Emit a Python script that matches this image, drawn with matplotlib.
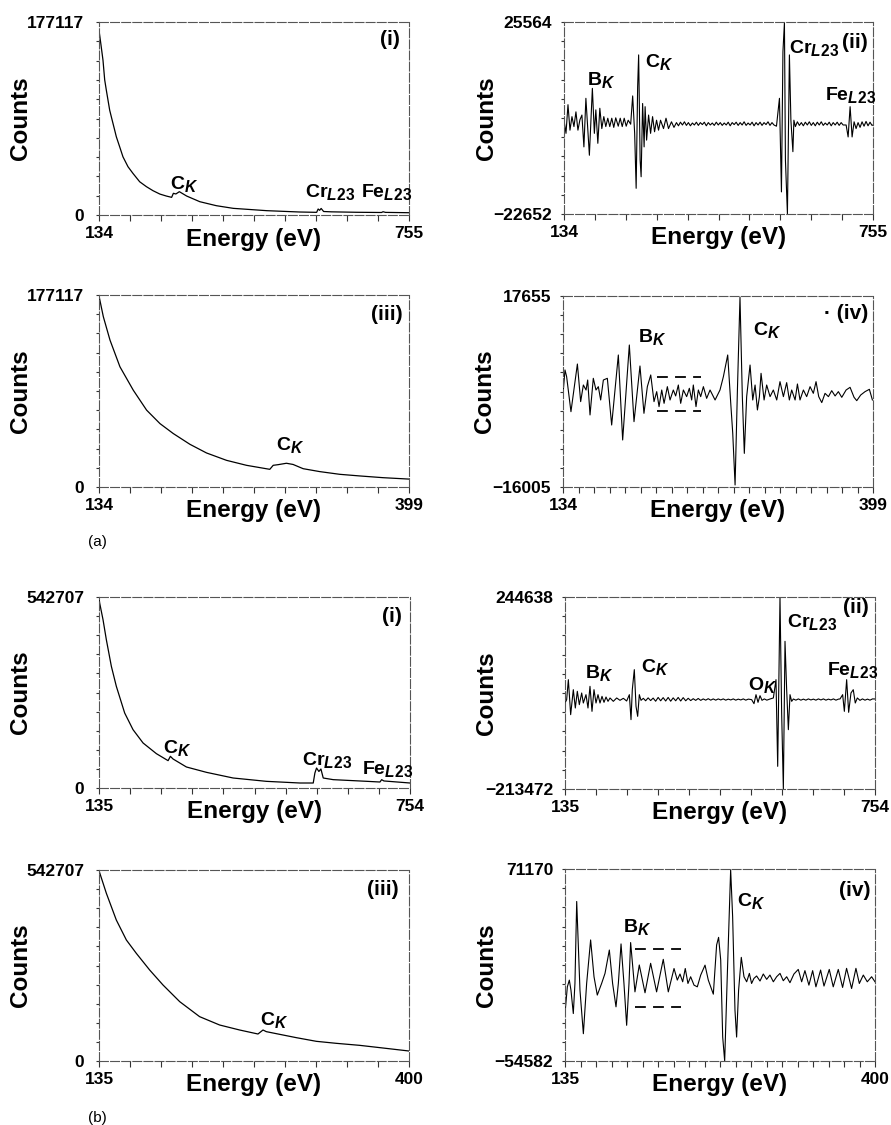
import numpy as np
import matplotlib
matplotlib.use('Agg')
import matplotlib.pyplot as plt

try:
    import matplotlib._mathtext as _mt
    _mt.SHRINK_FACTOR = 0.8
except Exception:
    pass

plt.rcParams['font.family'] = ['Liberation Sans', 'DejaVu Sans']
plt.rcParams['font.weight'] = 'bold'
plt.rcParams['mathtext.fontset'] = 'custom'
plt.rcParams['mathtext.rm'] = 'Liberation Sans:bold'
plt.rcParams['mathtext.it'] = 'Liberation Sans:bold:italic'
plt.rcParams['mathtext.bf'] = 'Liberation Sans:bold'

# ---------------- data ----------------
# (a)(i) raw spectrum 134-755 eV
E_ai = [134, 138, 142, 145.4, 148.7, 155.4, 158.7, 165.4, 168.7, 175.4, 182, 192.1, 202, 215.5,
        229, 242.2, 256, 268.9, 279.5, 283, 288, 295, 309.6,
        336, 369, 403, 470, 536, 570, 573, 576, 579, 584, 600, 650, 700, 703, 708, 755]
C_ai = [169500, 156000, 142000, 124000, 114500, 96200, 90100, 77900, 71800, 62600, 53400, 44300,
        38200, 30500, 26000, 22300, 19200, 17400, 16200, 19900,
        19300, 21400, 17400, 12200, 8550, 6100, 3970, 2750, 2440, 5500, 4300, 6000, 3200, 2900,
        2500, 2300, 3000, 2400, 2100]

# (a)(ii) derivative-filtered spectrum 134-755 eV
E_aii = [134, 138, 142, 146, 150, 154, 158, 162, 166, 170, 174, 178, 182, 185, 191, 195, 198, 202,
         206, 210, 214, 218, 222, 226, 230, 234, 238, 243, 247, 251, 255, 259, 263, 268, 272, 276,
         279, 282, 284, 287, 289, 292, 295, 297, 300, 304, 308, 312, 316, 320, 324, 328, 334, 339,
         344, 350, 355, 360,
         364, 368, 372, 376, 380, 384, 388, 392, 396, 400, 404, 408, 412, 416, 420, 424, 428, 432,
         436, 440, 444, 448, 452, 456, 460, 464, 468, 472, 476, 480, 484, 488, 492, 496, 500, 504,
         508, 512, 516, 520, 524, 528, 532, 536, 540, 544, 548, 552, 556,
         561, 567, 571, 574, 577, 579, 583, 587, 590, 594, 596, 599,
         603, 607, 611, 615, 619, 623, 627, 631, 635, 639, 643, 647, 651, 655, 659, 663, 667, 671,
         675, 679, 683, 687, 691, 695,
         701, 705, 709, 713, 717, 721, 725, 729, 733, 737, 741, 745, 749, 753, 755]
C_aii = [900, -2400, 4800, -1600, 1800, -700, 3000, -1600, 1000, 2200, -5800, 6400, -1600, -7900,
         8900, -2400, 3500, -4900, 3900, -1200, 1800, -700, 1400, -700, 1400, -900, 1500, -600,
         1400, -700, 1400, -600, 900, -100, 7000, -2400, -16200, 9300, 17300, -9100, -13300, 5100,
         -5800, 4300, -4100, 2200, -2400, 1800, -2000, 900, -1600, 900, -1200, 1400, -1200, 500,
         -900, 300,
         -500, 400, -300, 500, -400, 300, -500, 200, -300, 400, -400, 300, -200, 400, -500, 300,
         -300, 200, -400, 400, -300, 300, -400, 200, -300, 400, -500, 300, -200, 400, -400, 300,
         -300, 500, -400, 200, -300, 400, -500, 300, -300, 400, -400, 300, -200, 500, -400, 300,
         -300,
         -600, 6400, -17100, 18100, 25400, -9100, -22600, 17300, 900, -7000, 900, -700,
         500, -400, 300, -500, 400, -300, 500, -400, 300, -500, 400, -300, 500, -400, 200, -300,
         400, -500, 300, -300, 400, -400, 300, -300,
         -300, -3300, 4300, -3300, 500, -1200, 300, -900, 500, -600, 600, -500, 400, -400, -300]

# (a)(iii) raw spectrum 134-399 eV
E_aiii = [134, 137.7, 143.4, 151.9, 163.3, 174.7, 186.1, 197.5, 211.7, 225.9, 243, 260.1, 280,
          282.9, 287.1, 294.2, 299.9, 308.5, 322.7, 339.8, 356.9, 376.8, 399]
C_aiii = [176200, 157100, 135500, 110900, 89300, 70900, 58500, 49300, 39400, 31400, 24600, 20000,
          16300, 20000, 20600, 21900, 20800, 16900, 14200, 11700, 10200, 8600, 7300]

# (a)(iv) derivative-filtered spectrum 134-399 eV
E_aiv = [134.3, 135.7, 137.1, 140.8, 146.3, 149.1, 151.4, 153.7, 155.1, 157.1,
         159.9, 162.2, 164.2, 166.2, 168.5, 171.9, 175.6, 181.3, 185, 190.7,
         194.7, 199.8, 203.2, 206.1, 209, 211.8, 214.1, 216.1, 218.4, 220.4,
         223.2, 225.5, 228.3, 230.3, 232.6, 234.6, 236.9, 239.7, 242, 244,
         245.4, 247.7, 249.7, 251.7, 254, 256.8, 259.7, 264, 268.2, 271.1,
         274.8, 277.4, 279.1, 281.1, 283.1, 285.3, 287.3, 289, 291, 293.9,
         296.2, 298.2, 300.2, 301.9, 303.3, 305.9, 308.1, 311, 313.8, 316.7,
         319.5, 322.4, 325.2, 327.5, 329.5, 332.4, 334.4, 336.6, 339.5, 342.3,
         345.2, 348, 350.3, 352.6, 355.2, 358, 360.9, 363.7, 366.6, 369.4,
         372.3, 376, 379.4, 382.8, 385.1, 388.5, 392.2, 395.9, 398.5]
C_aiv = [1090, 4620, 3440, -2730, 5670, -960, 1970, 1090, 2850, -3310,
         3150, 1090, 1680, -670, 2850, 3150, -5080, 7260, -7720, 9020,
         -4490, 5320, -3020, 1680, 3740, -960, 800, -1840, 1090, -1260,
         1680, -670, 1090, 40, 1970, -1260, 1090, -80, 1390, -670,
         1970, -1840, 1090, -80, 1680, -380, 1090, -670, 1090, 3440,
         7260, -1260, -6540, -15650, 1090, 17420, -80, -10080, -80, 5490,
         -670, 1970, -2430, -80, 4030, -670, 1970, -80, 1090, -670,
         2560, -80, 2390, -670, 1090, -670, 2150, -670, 1090, -80,
         1680, 500, 2560, -80, -1130, 500, -80, 970, 40, 800,
         -200, 1090, 1560, -200, -790, 210, 800, 1210, -670]
dash_aiv_E = [214, 252]
dash_aiv_levels = [3320, -2550]

# (b)(i) raw spectrum 135-754 eV
E_bi = [135, 136.3, 143, 149.6, 159.6, 169.5, 186.1, 202.7, 222.7, 249.2, 272.5, 277.1, 282.4, 309,
        348.9, 402, 468.4, 534.8, 561.4, 564.7, 568, 572.7, 576.7, 581.3, 601.2, 667.7, 694.2,
        697.6, 702, 754]
C_bi = [540000, 525700, 478300, 421500, 345700, 288900, 213100, 165800, 127900, 97600, 77700,
        90000, 82400, 59700, 44500, 28400, 18900, 14200, 14200, 42600, 56800, 47000, 54000, 28400,
        23700, 19000, 17000, 23700, 20000, 14200]

# (b)(ii) derivative-filtered spectrum 135-754 eV
E_bii = [135, 138.3, 141.7, 146.3, 151.6, 155.6, 159.6, 163.6, 168.3, 171.6,
         176.9, 180.9, 184.9, 188.9, 192.9, 196.9, 200.9, 204.9, 208.9, 212.9,
         216.9, 220.9, 224.9, 231.5, 238.2, 244.8, 251.5, 258.1, 263.5, 266.8,
         269.4, 273.4, 276.8, 280.1, 283.4, 286.8, 291.4,
         296, 301, 306, 311, 316, 321, 326, 331, 336, 341, 346, 351, 356, 361, 366, 371, 376, 381,
         386, 391, 396, 401, 406, 411, 416, 421, 426, 431, 436, 441, 446, 451, 456, 461, 466, 471,
         476, 481, 486, 491, 496, 501,
         507.7, 512.4, 516.4, 520.4, 524.4, 528.4, 533, 538, 544.4, 551,
         556.3, 559.7, 564.3, 567.6, 571, 574.3, 577.6, 581, 584.3, 587.6, 591,
         596, 601, 606, 611, 616, 621, 626, 631, 636, 641, 646, 651, 656, 661, 666, 671, 676, 681,
         684.1, 689.4, 692.8, 697.4, 701.4, 706, 710.6, 714.6, 718.7, 724,
         729, 734, 739, 744, 749, 754]
C_bii = [-8300, -300, 47400, -36100, 23500, -20200, 19600, -12200, 15600, -8300,
         11600, -20200, 31500, -28200, 23500, -8300, 11600, -8300, 7600, -6700,
         6000, -4300, 3700, -4300, 3700, -1900, 2900, -3500, 11600, -48000,
         23500, 71300, -16200, -40100, 11600, -1900, 2900,
         -3000, 4000, -2500, 3500, -4000, 5000, -3000, 4500, -3500, 5000,
         -4000, 4000, -3000, 5000, -3500, 4500, -3000, 3000, -2500, 2000,
         -2000, 2500, -2000, 1500, -1500, 2000, -1500, 1500, -1500, 1500,
         -1000, 1500, -1500, 1000, -1000, 1500, -1500, 1000, -1000, 1500,
         -1500, 1000,
         -300, -9900, 11600, -6700, 9200, -1900, 1500, -1500, 1300, 3700,
         47400, -159400, 244600, -32100, -213500, 138900, 23500, -71900, 11600, -4300, 1300,
         -1500, 1500, -1500, 1000, -1500, 1500, -1000, 1000, -1500, 1500, -1000, 1500, -1500,
         1000, -1000, 1500, -1500, 1000,
         1300, 11600, -28200, 47400, -30500, 15600, 23500, -8300, 3700, -1900,
         1500, -1500, 1000, -1500, 1500, 1300]

# (b)(iii) raw spectrum 135-400 eV
E_biii = [135, 141.3, 149.8, 158.4, 166.9, 178.3, 189.7, 204, 221, 238.1, 255.2, 270.9, 275.2,
          278, 289.4, 303.7, 320.8, 337.9, 357.8, 377.8, 400]
C_biii = [540800, 476400, 400600, 343800, 305900, 258600, 216000, 168600, 126000, 102300, 88100,
          76700, 88100, 83400, 75800, 66300, 55900, 50200, 44500, 36900, 28400]

# (b)(iv) derivative-filtered spectrum 135-400 eV
E_biv = [135, 137, 138.7, 140.1, 142.1, 143.5, 145, 147.8, 150.7, 153.5,
         156.9, 159.8, 162.6, 166.3, 169.2, 172.9, 175.7, 178.6, 180.6, 182.9,
         185.4, 187.7, 189.7, 191.1, 194.8, 198.5, 203.4, 208.2, 213.3, 219,
         223.3, 228.2, 231, 233.3, 235.6, 237.8, 240.1, 242.4, 245.3, 248.1,
         251, 254.7, 257.5, 261.8, 264.6, 266.3, 268.1, 269.8, 271.5, 273.7,
         276.6, 278.3, 280.3, 281.7, 283.4, 285.7, 288, 290.3, 292.6, 294.5,
         296.5, 298.8, 301.7, 304.5, 307.4, 310.2, 313.1, 315.9, 318.8, 321.6,
         324.5, 327.3, 330.7, 334.4, 337.3, 340.1, 343.5, 346.7, 349.5, 353.5,
         356.4, 360.9, 364.3, 368.6, 372.3, 375.7, 380, 383.7, 386.6, 390,
         393.4, 397.1, 400]
C_biv = [-23500, -6000, -1600, -8200, -23500, -3800, 49900, -8200, -36700, -3800,
         24700, 600, -11400, -3800, 2800, 18100, -3800, -19100, -3800, 22100,
         -3800, -31200, -3800, 23000, -9300, 8300, -9900, 9400, -9300, 12000,
         -9300, 6000, -1600, 2400, -2700, 6000, -3800, 600, -4900, -6000,
         1700, 8200, -1600, -10800, 21400, 26400, 11600, -38900, -54600, 600,
         70700, 40000, -21300, -38900, -8200, 13300, 600, -2700, 2800, -3800,
         -500, 1100, -2200, 2400, -1100, 1700, -2700, 600, 2800, -2000,
         600, -3300, 2400, 5400, -2700, 4600, -4900, 4600, -6000, 5000,
         -5500, 5400, -6000, 5400, -6400, 6100, -7100, 6100, -3800, 1700,
         -2700, 600, -2700]
dash_biv_E = [195, 234]
dash_biv_levels = [18600, -19100]

# axis ranges (as printed)
xr_a_full, xr_a_zoom = (134, 755), (134, 399)
xr_b_full, xr_b_zoom = (135, 754), (135, 400)
yr_ai, yr_aii, yr_aiii, yr_aiv = (0, 177117), (-22652, 25564), (0, 177117), (-16005, 17655)
yr_bi, yr_bii, yr_biii, yr_biv = (0, 542707), (-213472, 244638), (0, 542707), (-54582, 71170)

CK, BK, OK = 'C$_K$', 'B$_K$', 'O$_K$'
CrL, FeL = 'Cr$_{L23}$', 'Fe$_{L23}$'

# ---------------- figure ----------------
W, H = 891, 1125
fig = plt.figure(figsize=(W / 100, H / 100), dpi=100)


def make_axes(l, r, t, b):
    return fig.add_axes([l / W, 1 - b / H, (r - l) / W, (b - t) / H])


def fmt(v):
    return str(v).replace('-', '\u2212')


def style(ax, xlim, ylim, ndiv, left_col):
    ax.set_xlim(*xlim)
    ax.set_ylim(*ylim)
    xt = np.linspace(xlim[0], xlim[1], ndiv + 1)
    ax.set_xticks(xt)
    ax.set_xticklabels([fmt(xlim[0])] + [''] * (ndiv - 1) + [fmt(xlim[1])])
    yt = np.linspace(ylim[0], ylim[1], 11)
    ax.set_yticks(yt)
    ax.set_yticklabels([fmt(ylim[0])] + [''] * 9 + [fmt(ylim[1])])
    ax.tick_params(axis='x', direction='out', length=4, width=0.8, color='#333333',
                   labelsize=12.5, pad=4)
    ax.tick_params(axis='y', direction='out', length=2.5, width=0.8, color='#333333',
                   labelsize=12.5, pad=8 if left_col else 6)
    for s in ax.spines.values():
        s.set_color('#555555')
        s.set_linewidth(0.8)
        s.set_linestyle((0, (8, 2)))
    ax.set_xlabel('Energy (eV)', fontsize=17.5, fontweight='bold')
    ax.xaxis.set_label_coords(0.5, -0.065)
    ax.set_ylabel('Counts', fontsize=17.5, fontweight='bold')
    ax.yaxis.set_label_coords(-0.215, 0.5)


def tag(ax, text, x, y):
    ax.text(x, y, text, transform=ax.transAxes, ha='center', va='center',
            fontsize=15, fontweight='bold')


def peak(ax, text, e, c):
    ax.text(e, c, text, ha='left', va='baseline', fontsize=14, fontweight='bold')


# (a)(i)
ax = make_axes(99, 409, 22, 215)
ax.plot(E_ai, C_ai, color='black', lw=0.9)
style(ax, xr_a_full, yr_ai, 10, True)
tag(ax, '(i)', 0.94, 0.91)
peak(ax, CK, 276, 23600)
peak(ax, CrL, 547, 16200)
peak(ax, FeL, 658, 16200)

# (a)(ii)
ax = make_axes(564, 873, 22, 214)
ax.plot(E_aii, C_aii, color='black', lw=0.8)
style(ax, xr_a_full, yr_aii, 10, False)
tag(ax, '(ii)', 0.942, 0.893)
peak(ax, BK, 179.6, 9700)
peak(ax, CK, 296.8, 14300)
peak(ax, CrL, 586.9, 17860)
peak(ax, FeL, 658.6, 5980)

# (a)(iii)
ax = make_axes(99, 409, 295, 487)
ax.plot(E_aiii, C_aiii, color='black', lw=0.9)
style(ax, xr_a_zoom, yr_aiii, 10, True)
tag(ax, '(iii)', 0.929, 0.90)
peak(ax, CK, 285.3, 34100)

# (a)(iv)
ax = make_axes(563, 873, 296, 487)
ax.plot(E_aiv, C_aiv, color='black', lw=0.8)
for lev in dash_aiv_levels:
    ax.plot(dash_aiv_E, [lev, lev], color='black', lw=1.3, linestyle=(0, (6, 4)))
style(ax, xr_a_zoom, yr_aiv, 20, False)
tag(ax, '\u00b7 (iv)', 0.912, 0.906)
peak(ax, BK, 198.4, 9600)
peak(ax, CK, 296.7, 10780)

# (b)(i)
ax = make_axes(99, 410, 597, 788)
ax.plot(E_bi, C_bi, color='black', lw=0.9)
style(ax, xr_b_full, yr_bi, 10, True)
tag(ax, '(i)', 0.941, 0.90)
peak(ax, CK, 263, 98600)
peak(ax, CrL, 538.4, 65350)
peak(ax, FeL, 657.7, 39780)

# (b)(ii)
ax = make_axes(565, 875, 597, 789)
ax.plot(E_bii, C_bii, color='black', lw=0.8)
style(ax, xr_b_full, yr_bii, 10, False)
tag(ax, '(ii)', 0.939, 0.945)
peak(ax, BK, 175, 50650)
peak(ax, CK, 286.2, 66400)
peak(ax, OK, 501, 22740)
peak(ax, CrL, 577.7, 173800)
peak(ax, FeL, 657.6, 58530)

# (b)(iii)
ax = make_axes(99, 409, 870, 1061)
ax.plot(E_biii, C_biii, color='black', lw=0.9)
style(ax, xr_b_zoom, yr_biii, 10, True)
tag(ax, '(iii)', 0.916, 0.90)
peak(ax, CK, 272.6, 102300)

# (b)(iv)
ax = make_axes(565, 875, 869, 1061)
ax.plot(E_biv, C_biv, color='black', lw=0.8)
for lev in dash_biv_levels:
    ax.plot(dash_biv_E, [lev, lev], color='black', lw=1.3, linestyle=(0, (6, 4)))
style(ax, xr_b_zoom, yr_biv, 20, False)
tag(ax, '(iv)', 0.935, 0.89)
peak(ax, BK, 184.3, 30100)
peak(ax, CK, 281.8, 46900)

fig.text(97 / W, 1 - 542 / H, '(a)', ha='center', va='center', fontsize=11, fontweight='normal')
fig.text(97 / W, 1 - 1118 / H, '(b)', ha='center', va='center', fontsize=11, fontweight='normal')

fig.savefig('out.png', dpi=100)
